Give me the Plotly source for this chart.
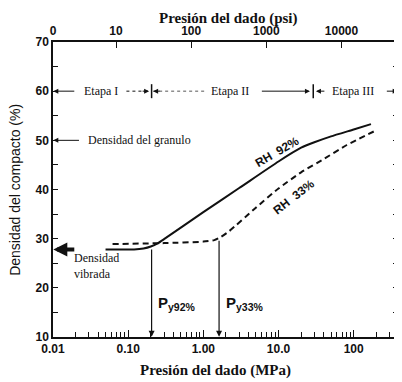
import numpy as np
import plotly.graph_objects as go

PSI_PER_MPA = 145.038

# ---- data ----
rh92_mpa = [0.05, 0.12, 0.16, 0.20, 0.25, 0.30, 1.0, 3.0, 10, 20, 30, 50, 100, 170]
rh92_pct = [27.8, 27.8, 28.0, 28.4, 29.1, 29.9, 35.4, 40.3, 45.7, 48.5, 49.6, 50.8, 52.2, 53.3]

rh33_mpa = [0.062, 0.3, 1.0, 1.4, 1.7, 2.2, 5, 10, 20, 40, 80, 185]
rh33_pct = [28.9, 29.1, 29.4, 29.7, 30.3, 31.5, 36.3, 40.2, 43.5, 46.2, 49.0, 51.8]

py_mpa = [0.205, 1.62]
py_top_pct = [28.1, 29.9]
py_labels = ["P<sub>y92%</sub>", "P<sub>y33%</sub>"]

stage_names = ["Etapa I", "Etapa II", "Etapa III"]
stage_label_mpa = [0.043, 2.24, 97]
stage_bounds_mpa = [0.205, 29.0]
stage_y = 60

granule_density = 50
vibrated_density = 27.8

x_tickvals = [0.01, 0.1, 1, 10, 100]
x_ticktext = ["0.01", "0.10", "1.00", "10.0", "100"]
psi_tickvals = [1.4515, 10, 100, 1000, 10000]
psi_ticktext = ["0", "10", "100", "1000", "10000"]
y_tickvals = [10, 20, 30, 40, 50, 60, 70]

X_RANGE = [-2.0, 2.59]
Y_RANGE = [10, 70]

INK = "#111111"
SERIF = "Liberation Serif"
SANS = "Liberation Sans"
L = np.log10

fig = go.Figure()

fig.add_trace(go.Scatter(x=rh92_mpa, y=rh92_pct, mode="lines",
                         line=dict(color=INK, width=2, shape="spline", smoothing=0.5)))
fig.add_trace(go.Scatter(x=rh33_mpa, y=rh33_pct, mode="lines",
                         line=dict(color=INK, width=2, dash="6px,4px", shape="spline", smoothing=0.5)))

# stage dotted segments
fig.add_trace(go.Scatter(x=[0.0948, 0.19], y=[stage_y, stage_y], mode="lines",
                         line=dict(color=INK, width=1, dash="dot")))
fig.add_trace(go.Scatter(x=[0.215, 1.047], y=[stage_y, stage_y], mode="lines",
                         line=dict(color="#555555", width=1, dash="dot")))
# stage boundary crosses
fig.add_trace(go.Scatter(x=stage_bounds_mpa, y=[stage_y] * 2, mode="markers",
                         marker=dict(symbol="line-ns", size=10, line=dict(color=INK, width=1.5))))

# invisible trace on the psi axis
fig.add_trace(go.Scatter(x=[psi_tickvals[0], psi_tickvals[-1]], y=[None, None], xaxis="x2",
                         mode="lines", hoverinfo="skip"))


def arrow(xh, yh, xt, yt, width=1.0, size=1.0, head=2):
    fig.add_annotation(x=L(xh), y=yh, ax=L(xt), ay=yt, xref="x", yref="y",
                       axref="x", ayref="y", text="", showarrow=True,
                       arrowhead=head, arrowsize=size, arrowwidth=width, arrowcolor=INK)


def head(xh, yh, dx, width=1.0):
    fig.add_annotation(x=L(xh), y=yh, ax=dx, ay=0, xref="x", yref="y",
                       text="", showarrow=True, arrowhead=2, arrowsize=1,
                       arrowwidth=width, arrowcolor=INK)


# stage arrows
arrow(0.0101, stage_y, 0.0201, stage_y)
head(0.19, stage_y, -8)
head(0.215, stage_y, 8)
arrow(26.2, stage_y, 5.74, stage_y)
arrow(31.5, stage_y, 42.7, stage_y)
arrow(385, stage_y, 264, stage_y)

for name, xm in zip(stage_names, stage_label_mpa):
    fig.add_annotation(x=L(xm), y=stage_y, text=name, showarrow=False,
                       font=dict(family=SERIF, size=12, color=INK), bgcolor="white")

# granule density
arrow(0.0101, granule_density, 0.0232, granule_density)
fig.add_annotation(x=L(0.0272), y=granule_density, text="Densidad del granulo",
                   showarrow=False, xanchor="left",
                   font=dict(family=SERIF, size=12, color=INK))

# vibrated density
arrow(0.0101, vibrated_density, 0.0201, vibrated_density, width=4, size=0.7)
fig.add_annotation(x=L(0.0178), y=24.4, text="Densidad<br>vibrada", showarrow=False,
                   xanchor="left", align="left",
                   font=dict(family=SERIF, size=12, color=INK))

# yield pressures
for xv, yt, lab in zip(py_mpa, py_top_pct, py_labels):
    arrow(xv, 10.05, xv, yt, width=1.2, size=1)
    fig.add_annotation(x=L(xv) + 0.06, y=16.9, text=lab, showarrow=False, xanchor="left",
                       font=dict(family=SANS, size=15, color=INK, weight="bold"))

# curve labels
fig.add_annotation(x=L(9.5), y=47.6, text="RH  92%", showarrow=False, textangle=-30,
                   font=dict(family=SANS, size=12, color=INK, weight="bold"))
fig.add_annotation(x=L(16.0), y=38.4, text="RH  33%", showarrow=False, textangle=-38,
                   font=dict(family=SANS, size=12, color=INK, weight="bold"))

# titles
fig.add_annotation(xref="paper", yref="paper", x=0.51, y=1.081, yanchor="middle",
                   text="Presión del dado (psi)", showarrow=False,
                   font=dict(family=SERIF, size=15, color=INK, weight="bold"))
fig.add_annotation(xref="paper", yref="paper", x=0.471, y=-0.112, yanchor="middle",
                   text="Presión del dado (MPa)", showarrow=False,
                   font=dict(family=SERIF, size=15, color=INK, weight="bold"))
fig.add_annotation(xref="paper", yref="paper", x=-0.112, y=0.5, xanchor="center",
                   yanchor="middle", text="Densidad del compacto (%)",
                   textangle=-90, showarrow=False, font=dict(family=SANS, size=14, color=INK))

tickfont = dict(family=SANS, size=12, color=INK, weight="bold")
minor_x = [k * 10.0 ** d for d in range(-2, 3) for k in range(2, 10)]

fig.update_layout(
    width=394, height=374,
    margin=dict(l=45, r=2, t=34, b=45),
    paper_bgcolor="white", plot_bgcolor="white",
    showlegend=False,
    xaxis=dict(type="log", range=X_RANGE, tickvals=x_tickvals, ticktext=x_ticktext,
               ticks="inside", ticklen=7, tickwidth=1, tickcolor=INK,
               minor=dict(tickvals=minor_x, ticks="inside", ticklen=5, tickwidth=1,
                          tickcolor=INK, showgrid=False),
               showline=True, linecolor=INK, linewidth=1.5, showgrid=False, zeroline=False,
               tickfont=tickfont),
    xaxis2=dict(type="log", overlaying="x", side="top", anchor="y",
                range=[X_RANGE[0] + L(PSI_PER_MPA), X_RANGE[1] + L(PSI_PER_MPA)],
                tickvals=psi_tickvals, ticktext=psi_ticktext,
                ticks="inside", ticklen=6, tickwidth=1.2, tickcolor=INK,
                showline=True, linecolor=INK, linewidth=1.5, showgrid=False, zeroline=False,
                tickfont=tickfont),
    yaxis=dict(range=Y_RANGE, tickvals=y_tickvals, ticks="inside", ticklen=5, tickwidth=1.2,
               tickcolor=INK, minor=dict(dtick=5, ticks="inside", ticklen=5, tickwidth=1.2,
                                         tickcolor=INK, showgrid=False),
               showline=True, linecolor=INK, linewidth=1.5, mirror="ticks",
               showgrid=False, zeroline=False, tickfont=tickfont),
)

fig.write_html("out.html")
